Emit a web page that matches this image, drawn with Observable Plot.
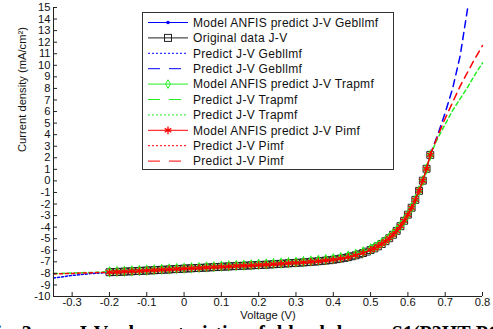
<!DOCTYPE html>
<html><head><meta charset="utf-8">
<script src="https://cdn.jsdelivr.net/npm/d3@7"></script>
<script src="https://cdn.jsdelivr.net/npm/@observablehq/plot@0.6"></script>
<style>
html,body{margin:0;padding:0;background:#fff;overflow:hidden;}
#wrap{position:relative;width:493px;height:329px;overflow:hidden;background:#fff;}
#legend{position:absolute;left:0;top:0;pointer-events:none;}
#caption{position:absolute;top:323px;left:0;width:700px;height:6px;overflow:visible;font-family:"Liberation Serif","Times New Roman",serif;font-weight:bold;font-size:20px;line-height:20px;white-space:nowrap;color:#000;}
#caption span{position:absolute;top:0;}
</style></head><body><div id="wrap"></div>
<script>
// ---- data ----
const voltageOriginal = [-0.20,-0.19,-0.18,-0.17,-0.16,-0.15,-0.14,-0.13,-0.12,-0.11,-0.10,-0.09,-0.08,-0.07,-0.06,-0.05,-0.04,-0.03,-0.02,-0.01,
  0.00,0.01,0.02,0.03,0.04,0.05,0.06,0.07,0.08,0.09,0.10,0.11,0.12,0.13,0.14,0.15,0.16,0.17,0.18,0.19,
  0.20,0.21,0.22,0.23,0.24,0.25,0.26,0.27,0.28,0.29,0.30,0.31,0.32,0.33,0.34,0.35,0.36,0.37,0.38,0.39,
  0.40,0.41,0.42,0.43,0.44,0.45,0.46,0.47,0.48,0.49,0.50,0.51,0.52,0.53,0.54,0.55,0.56,0.57,0.58,0.59,
  0.60,0.61,0.62,0.63,0.64,0.65,0.66];
const jOriginal = [-7.90,-7.89,-7.88,-7.86,-7.85,-7.83,-7.82,-7.80,-7.79,-7.77,-7.76,-7.74,-7.73,-7.71,-7.69,-7.68,-7.66,-7.64,-7.62,-7.61,
  -7.59,-7.57,-7.56,-7.54,-7.53,-7.51,-7.50,-7.48,-7.46,-7.45,-7.43,-7.41,-7.40,-7.38,-7.37,-7.35,-7.34,-7.32,-7.31,-7.29,
  -7.28,-7.26,-7.25,-7.23,-7.21,-7.19,-7.17,-7.15,-7.13,-7.11,-7.09,-7.07,-7.05,-7.03,-7.00,-6.98,-6.95,-6.92,-6.89,-6.86,
  -6.82,-6.77,-6.72,-6.66,-6.60,-6.52,-6.44,-6.35,-6.24,-6.12,-5.98,-5.84,-5.66,-5.46,-5.22,-4.96,-4.66,-4.32,-3.92,-3.45,
  -2.92,-2.32,-1.64,-0.86,0.02,1.05,2.25];

const voltageModel = [-0.20,-0.18,-0.16,-0.14,-0.12,-0.10,-0.08,-0.06,-0.04,-0.02,0.00,0.02,0.04,0.06,0.08,0.10,0.12,0.14,0.16,0.18,
  0.20,0.22,0.24,0.26,0.28,0.30,0.32,0.34,0.36,0.38,0.40,0.42,0.44,0.46,0.48,0.50,
  0.51,0.52,0.53,0.54,0.55,0.56,0.57,0.58,0.59,0.60,0.61,0.62,0.63,0.64,0.65,0.66];
const jGebllmf = [-7.92,-7.89,-7.86,-7.83,-7.80,-7.77,-7.74,-7.70,-7.67,-7.63,-7.60,-7.57,-7.54,-7.51,-7.47,-7.44,-7.41,-7.38,-7.35,-7.32,
  -7.29,-7.26,-7.22,-7.18,-7.14,-7.10,-7.06,-7.01,-6.96,-6.90,-6.83,-6.73,-6.61,-6.45,-6.25,-5.99,
  -5.85,-5.67,-5.47,-5.23,-4.97,-4.67,-4.33,-3.93,-3.46,-2.93,-2.33,-1.65,-0.87,0.01,1.05,2.26];
const jTrapmf = [-7.86,-7.84,-7.81,-7.78,-7.75,-7.72,-7.69,-7.65,-7.62,-7.58,-7.55,-7.52,-7.49,-7.45,-7.42,-7.38,-7.35,-7.32,-7.29,-7.26,
  -7.22,-7.19,-7.15,-7.11,-7.07,-7.03,-6.98,-6.93,-6.87,-6.81,-6.73,-6.63,-6.50,-6.34,-6.14,-5.89,
  -5.75,-5.58,-5.38,-5.15,-4.89,-4.60,-4.27,-3.88,-3.42,-2.90,-2.31,-1.64,-0.86,0.02,1.04,2.24];
const jPimf = [-7.90,-7.88,-7.85,-7.82,-7.79,-7.76,-7.73,-7.69,-7.66,-7.62,-7.59,-7.56,-7.53,-7.50,-7.46,-7.43,-7.40,-7.37,-7.34,-7.31,
  -7.28,-7.25,-7.21,-7.17,-7.13,-7.09,-7.05,-7.00,-6.95,-6.89,-6.82,-6.72,-6.60,-6.44,-6.24,-5.98,
  -5.84,-5.66,-5.46,-5.22,-4.96,-4.66,-4.32,-3.92,-3.45,-2.92,-2.32,-1.64,-0.86,0.02,1.05,2.25];

const voltageLeft = [-0.35,-0.30,-0.25,-0.20];
const jGebllmfLeft = [-8.40,-8.18,-8.02,-7.92];
const jTrapmfLeft = [-8.02,-7.97,-7.92,-7.86];
const jPimfLeft = [-8.05,-8.00,-7.95,-7.90];

const voltageRightGebllmf = [0.66,0.68,0.70,0.72,0.74,0.76];
const jGebllmfRight = [2.26,4.0,5.9,8.0,10.8,14.9];
const voltageRight = [0.66,0.68,0.70,0.72,0.74,0.76,0.78,0.80];
const jTrapmfRight = [2.24,3.7,4.9,6.1,7.1,8.1,9.2,10.2];
const jPimfRight = [2.25,3.9,5.4,6.8,8.2,9.4,10.6,11.7];

const xTicks = [-0.3,-0.2,-0.1,0,0.1,0.2,0.3,0.4,0.5,0.6,0.7,0.8];
const yTicks = [-10,-9,-8,-7,-6,-5,-4,-3,-2,-1,0,1,2,3,4,5,6,7,8,9,10,11,12,13,14,15];
const legendLabels = ["Model ANFIS predict J-V Gebllmf","Original data J-V","Predict J-V Gebllmf","Predict J-V Gebllmf",
  "Model ANFIS predict J-V Trapmf","Predict J-V Trapmf","Predict J-V Trapmf",
  "Model ANFIS predict J-V Pimf","Predict J-V Pimf","Predict J-V Pimf"];
const xLabel = "Voltage (V)";
const yLabel = "Current density (mA/cm\u00B2)";

// ---- styles ----
const BLUE="#0000ff", GREEN="#22ee22", RED="#ff0000", BLACK="#222";
const legendStyle = [
  {c:BLUE, dash:null, m:"dot"},
  {c:BLACK, dash:null, m:"square"},
  {c:BLUE, dash:"2,2"},
  {c:BLUE, dash:"12,9"},
  {c:GREEN, dash:null, m:"diamond"},
  {c:GREEN, dash:"12,9"},
  {c:GREEN, dash:"2,2"},
  {c:RED, dash:null, m:"asterisk"},
  {c:RED, dash:"2,2"},
  {c:RED, dash:"12,9"}
];

const zip=(xs,ys)=>xs.map((x,i)=>({x, y: ys[i]}));
const orig = zip(voltageOriginal, jOriginal);
const geb = zip(voltageModel, jGebllmf), trap = zip(voltageModel, jTrapmf), pim = zip(voltageModel, jPimf);
const gebL = zip(voltageLeft, jGebllmfLeft), trapL = zip(voltageLeft, jTrapmfLeft), pimL = zip(voltageLeft, jPimfLeft);
const gebR = zip(voltageRightGebllmf, jGebllmfRight), trapR = zip(voltageRight, jTrapmfRight), pimR = zip(voltageRight, jPimfRight);

const W=493, H=321, mL=53, mR=11, mT=7, mB=25;
const xy = {x:"x", y:"y"};
const plot = Plot.plot({
  width:W, height:H, marginLeft:mL, marginRight:mR, marginTop:mT, marginBottom:mB,
  x:{domain:[-0.35,0.8]}, y:{domain:[-10,15]},
  style:{fontFamily:"'Liberation Sans', Arial, sans-serif", fontSize:"11.2px", color:"#111", background:"#fff"},
  marks:[
    Plot.line(geb, {...xy, stroke:BLUE, strokeWidth:1}),
    Plot.dot(geb, {...xy, r:1.6, fill:BLUE}),
    Plot.line(orig, {...xy, stroke:BLACK, strokeWidth:1}),
    Plot.dot(orig, {...xy, symbol:"square", r:3.9, stroke:BLACK, strokeWidth:1, fill:"none"}),
    Plot.line(gebL, {...xy, stroke:BLUE, strokeDasharray:"2,2"}),
    Plot.line(gebR, {...xy, stroke:BLUE, strokeDasharray:"7,5"}),
    Plot.line(trap, {...xy, stroke:GREEN}),
    Plot.dot(trap, {...xy, symbol:"diamond", r:2.6, stroke:GREEN, fill:"none"}),
    Plot.line(trapL, {...xy, stroke:GREEN, strokeDasharray:"4,3"}),
    Plot.line(trapR, {...xy, stroke:GREEN, strokeDasharray:"4,3"}),
    Plot.line(pim, {...xy, stroke:RED}),
    Plot.dot(pim, {...xy, symbol:"asterisk", r:3.6, stroke:RED, strokeWidth:1.3}),
    Plot.line(pimL, {...xy, stroke:RED, strokeDasharray:"3,3"}),
    Plot.line(pimR, {...xy, stroke:RED, strokeDasharray:"7,5"}),
    Plot.ruleX([-0.35], {stroke:"#222"}),
    Plot.ruleY([-10], {stroke:"#222"}),
    Plot.tickY(yTicks, {y:d=>d, insetRight:(W-mL-mR)-4, stroke:"#222"}),
    Plot.tickX(xTicks, {x:d=>d, insetTop:(H-mT-mB)-4, stroke:"#222"}),
    Plot.axisY({ticks:yTicks, tickSize:0, tickPadding:3, label:null, tickFormat:d=>String(d)}),
    Plot.axisX({ticks:xTicks, tickSize:0, tickPadding:2, label:null, tickFormat:d=>String(d)}),
    Plot.text([xLabel], {text:d=>d, frameAnchor:"bottom", dy:22, fill:"#111"}),
    Plot.text([yLabel], {text:d=>d, frameAnchor:"left", dx:-31, rotate:-90, fill:"#111"})
  ]
});
const wrap = document.getElementById("wrap");
wrap.appendChild(plot);

// ---- legend ----
const svg = d3.select(wrap).append("svg").attr("id","legend").attr("width",493).attr("height",329);
svg.append("rect").attr("x",142.5).attr("y",12.5).attr("width",251).attr("height",157)
  .attr("fill","#fff").attr("stroke","#333").attr("stroke-width",1);
legendLabels.forEach((lab,i)=>{
  const st = legendStyle[i];
  const cy = 22.5 + 15.4*i;
  svg.append("line").attr("x1",148).attr("x2",188).attr("y1",cy).attr("y2",cy)
    .attr("stroke",st.c).attr("stroke-width",1).attr("stroke-dasharray",st.dash);
  if (st.m) {
    const g = svg.append("g").attr("transform",`translate(168,${cy})`);
    if (st.m==="dot") g.append("circle").attr("r",1.8).attr("fill",st.c);
    if (st.m==="square") g.append("rect").attr("x",-3.5).attr("y",-3.5).attr("width",7).attr("height",7).attr("fill","none").attr("stroke",st.c);
    if (st.m==="diamond") g.append("path").attr("d",d3.symbol(d3.symbolDiamond, Math.PI*2.6*2.6)()).attr("fill","none").attr("stroke",st.c);
    if (st.m==="asterisk") g.append("path").attr("d",d3.symbol(d3.symbolAsterisk, Math.PI*3.6*3.6)()).attr("fill","none").attr("stroke",st.c).attr("stroke-width",1.3);
  }
  svg.append("text").attr("x",193).attr("y",cy).attr("dy","0.36em")
    .attr("font-family","'Liberation Sans', Arial, sans-serif").attr("font-size","12px")
    .attr("letter-spacing","0.3px").attr("fill","#111").text(lab);
});

// ---- caption (cut off at the bottom, as in the reference) ----
const cap = document.createElement("div");
cap.id = "caption";
cap.innerHTML = '<span style="left:-16px">Fig. 3.</span><span style="left:77px;word-spacing:7px">J-V characteristic of blend layer S1(P3HT:PCBM)</span>';
wrap.appendChild(cap);
</script></body></html>
